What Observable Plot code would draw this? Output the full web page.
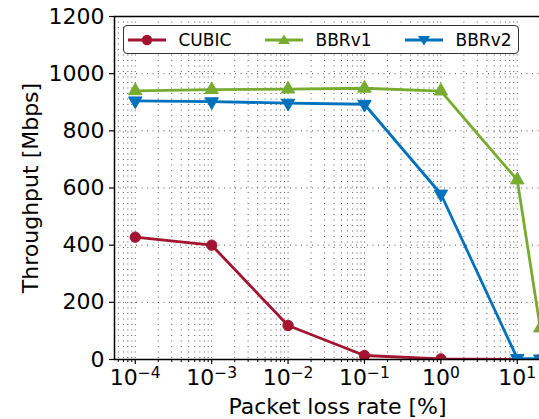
<!DOCTYPE html>
<html><head><meta charset="utf-8">
<script src="https://cdn.jsdelivr.net/npm/d3@7"></script>
<script src="https://cdn.jsdelivr.net/npm/@observablehq/plot@0.6"></script>
<style>
html,body{margin:0;padding:0;background:#fff;overflow:hidden;width:539px;height:419px;}
#wrap{position:relative;width:600px;height:419px;}
#legend{position:absolute;left:123px;top:25px;width:394px;height:27px;border:1.5px solid #333;border-radius:4px;background:rgba(255,255,255,0.92);font-family:"DejaVu Sans",sans-serif;font-size:17px;color:#000;}
.item{position:absolute;top:0;height:27px;display:flex;align-items:center;}
.item svg{margin-right:13px;}
</style></head>
<body><div id="wrap"></div>
<script>
const lossRates = [1e-4, 1e-3, 1e-2, 1e-1, 1, 10, 20];
const cubic = [428, 400, 119, 14, 2, 0, 0];
const bbrv1 = [940, 944, 946, 949, 939, 628, 110];
const bbrv2 = [905, 902, 897, 893, 579, 4, 2];
const seriesNames = ["CUBIC", "BBRv1", "BBRv2"];
const seriesColors = ["#A2142F", "#77AC30", "#0072BD"];
const seriesSymbols = ["circle", "triangle", "triangle"];
const seriesRotate = [0, 0, 180];
const yTicks = [0, 200, 400, 600, 800, 1000, 1200];
const xTickExponents = [-4, -3, -2, -1, 0, 1];

const seriesValues = [cubic, bbrv1, bbrv2];
const data = [];
seriesNames.forEach((name, i) => lossRates.forEach((x, j) => data.push({series: name, idx: i, x, y: seriesValues[i][j]})));

const majorTicks = xTickExponents.map(e => Math.pow(10, e));
const minorTicks = [];
for (let e = -5; e <= 2; e++) for (let k = 2; k <= 9; k++) minorTicks.push(k * Math.pow(10, e));
const xDomain = [Math.pow(10, -4.272), Math.pow(10, 1.566)];
const inDomain = v => v >= xDomain[0] && v <= xDomain[1];
const gridX = [...majorTicks, ...minorTicks].filter(inDomain);
const minorIn = minorTicks.filter(inDomain);

const marks = [
  Plot.ruleX(gridX, {stroke: "#000", strokeOpacity: 0.65, strokeWidth: 1, strokeDasharray: "1,4.5"}),
  Plot.ruleY(yTicks.slice(1, -1), {stroke: "#000", strokeOpacity: 0.65, strokeWidth: 1, strokeDasharray: "1,4.5"}),
  Plot.axisX({ticks: minorIn, tickSize: 3, tickFormat: () => "", label: null, strokeWidth: 1}),
  Plot.axisX({ticks: majorTicks, tickSize: 5, tickPadding: 5, strokeWidth: 1.2,
    tickFormat: d => String(Math.round(Math.log10(d))),
    label: "Packet loss rate [%]", labelAnchor: "center", labelArrow: "none", labelOffset: 54}),
  Plot.axisY({ticks: yTicks, tickSize: 5, tickPadding: 5, strokeWidth: 1.2, tickFormat: d => String(d),
    label: "Throughput [Mbps]", labelAnchor: "center", labelArrow: "none", labelOffset: 92}),
];
seriesNames.forEach((name, i) => {
  const d = data.filter(r => r.idx === i);
  marks.push(Plot.line(d, {x: "x", y: "y", stroke: seriesColors[i], strokeWidth: 2.8, clip: true}));
  marks.push(Plot.dot(d, {x: "x", y: "y", fill: seriesColors[i], stroke: seriesColors[i], strokeWidth: 1,
    symbol: seriesSymbols[i], rotate: seriesRotate[i], r: i === 0 ? 5.2 : 5, clip: true}));
});
marks.push(Plot.frame({stroke: "#000", strokeWidth: 1.5}));

const chart = Plot.plot({
  width: 600, height: 419,
  marginLeft: 114, marginRight: 40, marginTop: 16, marginBottom: 60,
  style: {fontFamily: "DejaVu Sans, sans-serif", fontSize: "22px", color: "#000", background: "#fff", overflow: "visible"},
  x: {type: "log", domain: xDomain},
  y: {domain: [0, 1200]},
  marks
});
document.getElementById("wrap").appendChild(chart);

// superscript exponents on x tick labels
d3.select(chart).selectAll('g[aria-label="x-axis tick label"] text').each(function() {
  const t = d3.select(this);
  const e = t.text();
  if (e === "") return;
  t.text("");
  t.append("tspan").text("10");
  t.append("tspan").attr("dy", "-0.45em").attr("font-size", "15.5px").text(e.replace("-", "\u2212"));
});

// legend
const legend = document.createElement("div");
legend.id = "legend";
const lefts = [3.5, 140.5, 280.5];
seriesNames.forEach((name, i) => {
  const item = document.createElement("div");
  item.className = "item";
  item.style.left = lefts[i] + "px";
  const c = seriesColors[i];
  let marker;
  if (i === 0) marker = `<circle cx="19" cy="7" r="5.2" fill="${c}"/>`;
  else if (i === 1) marker = `<path d="M19,1.5 L25,11 L13,11 Z" fill="${c}"/>`;
  else marker = `<path d="M19,12.5 L25,3 L13,3 Z" fill="${c}"/>`;
  item.innerHTML = `<svg width="38" height="14"><line x1="0" x2="38" y1="7" y2="7" stroke="${c}" stroke-width="2.8"/>${marker}</svg><span>${name}</span>`;
  legend.appendChild(item);
});
document.getElementById("wrap").appendChild(legend);
</script>
</body></html>
